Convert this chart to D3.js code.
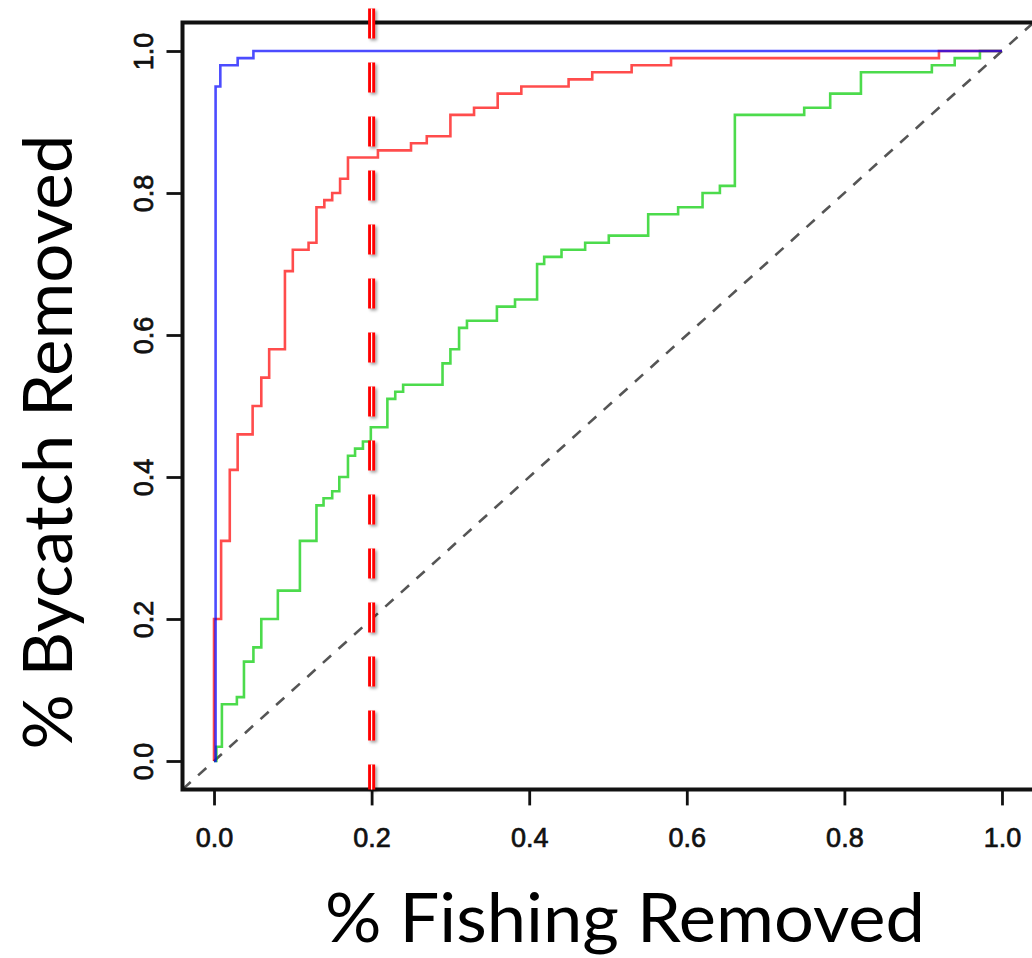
<!DOCTYPE html>
<html>
<head>
  <title>ROC: bycatch vs fishing removed</title>
  <script src="https://d3js.org/d3.v7.min.js"></script>
  <style>
    body { margin: 0; background: #fff; }
  </style>
</head>
<body>
<div id="svgcontainer"></div>
<script>
  // ---- data (x = % fishing removed, y = % bycatch removed)
  var blueX = [0, 0.002, 0.008, 0.03, 0.05, 1.0];
  var blueY = [0, 0.95, 0.98, 0.99, 1.0, 1.0];

  var redX = [0, 0, 0.009, 0.02, 0.03, 0.049, 0.06, 0.07, 0.09, 0.10, 0.12, 0.13, 0.14, 0.15,
              0.16, 0.17, 0.208, 0.25, 0.27, 0.30, 0.33, 0.36, 0.39, 0.45, 0.48, 0.53, 0.58, 0.92, 1.0];
  var redY = [0, 0.20, 0.31, 0.41, 0.46, 0.50, 0.54, 0.58, 0.69, 0.72, 0.73, 0.78, 0.79, 0.80,
              0.82, 0.85, 0.86, 0.87, 0.88, 0.91, 0.92, 0.94, 0.95, 0.96, 0.97, 0.98, 0.99, 1.0, 1.0];

  var greenX = [0, 0.003, 0.01, 0.029, 0.038, 0.05, 0.06, 0.081, 0.109, 0.13, 0.139, 0.15, 0.159,
                0.17, 0.179, 0.189, 0.199, 0.22, 0.23, 0.24, 0.29, 0.30, 0.311, 0.321, 0.359, 0.382,
                0.41, 0.419, 0.441, 0.471, 0.501, 0.551, 0.589, 0.62, 0.642, 0.661, 0.749, 0.782,
                0.821, 0.911, 0.94, 0.972, 1.0];
  var greenY = [0, 0.02, 0.08, 0.09, 0.14, 0.16, 0.20, 0.24, 0.31, 0.36, 0.37, 0.38, 0.40,
                0.43, 0.44, 0.45, 0.47, 0.51, 0.52, 0.53, 0.56, 0.58, 0.61, 0.62, 0.64, 0.65,
                0.70, 0.71, 0.72, 0.73, 0.74, 0.77, 0.78, 0.80, 0.81, 0.91, 0.92, 0.94,
                0.97, 0.98, 0.99, 1.0, 1.0];

  var tickValues = [0, 0.2, 0.4, 0.6, 0.8, 1.0];
  var cutoff = 0.2;
  var xTitle = "% Fishing Removed";
  var yTitle = "% Bycatch Removed";

  // ---- layout
  var width = 1032, height = 958;
  var usr = [-0.04, 1.04];          // R style 4% padding

  var x = d3.scaleLinear().domain(usr).range([182.5, 1033.5]);
  var y = d3.scaleLinear().domain(usr).range([789.4, 22.6]);

  var svg = d3.select("#svgcontainer").append("svg")
      .attr("width", width)
      .attr("height", height);

  var defs = svg.append("defs");
  var shadow = defs.append("filter").attr("id", "shadow")
      .attr("filterUnits", "userSpaceOnUse")
      .attr("x", 0).attr("y", 0).attr("width", width).attr("height", height);
  shadow.append("feDropShadow")
      .attr("dx", 2).attr("dy", 2).attr("stdDeviation", 1.5)
      .attr("flood-color", "#000").attr("flood-opacity", 0.35);

  drawDiagonal();
  drawCurve(greenX, greenY, "#00cc00");
  drawCurve(redX, redY, "#ff0000");
  drawCurve(blueX, blueY, "#0000ff");
  drawAxis();
  drawCutoff();
  drawTitles();

  function drawCurve(xs, ys, color) {
    var pts = xs.map(function(d, i) { return [d, ys[i]]; });
    var line = d3.line()
        .x(function(d) { return x(d[0]); })
        .y(function(d) { return y(d[1]); })
        .curve(d3.curveStepAfter);
    svg.append("path")
        .attr("d", line(pts))
        .attr("fill", "none")
        .attr("stroke", color)
        .attr("stroke-opacity", 0.7)
        .attr("stroke-width", 2.6);
  }

  function drawDiagonal() {
    svg.append("line")
        .attr("x1", x(usr[0])).attr("y1", y(usr[0]))
        .attr("x2", x(usr[1])).attr("y2", y(usr[1]))
        .attr("stroke", "#555")
        .attr("stroke-width", 2.6)
        .attr("stroke-dasharray", "11,10");
  }

  function styleTicks(sel) {
    sel.attr("fill", "#111")
        .attr("stroke", "#111")
        .attr("stroke-width", 0.7)
        .style("font-family", "'Liberation Sans', Arial, sans-serif")
        .style("font-size", "27px");
  }

  function drawAxis() {
    // box (right side runs off the picture)
    svg.append("path")
        .attr("d", "M" + x(usr[1]) + "," + y(usr[1]) + "H" + x(usr[0]) + "V" + y(usr[0]) + "H" + x(usr[1]))
        .attr("fill", "none")
        .attr("stroke", "#111")
        .attr("stroke-width", 4);

    var xAxis = d3.axisBottom(x).tickValues(tickValues).tickFormat(d3.format(".1f")).tickSize(16);
    var gx = svg.append("g")
        .attr("transform", "translate(0," + y(usr[0]) + ")")
        .call(xAxis);
    gx.select(".domain").remove();
    gx.selectAll(".tick line").attr("stroke", "#111").attr("stroke-width", 2.8);
    gx.selectAll(".tick text").attr("y", 58).attr("dy", 0).call(styleTicks);

    var yAxis = d3.axisLeft(y).tickValues(tickValues).tickFormat(d3.format(".1f")).tickSize(16);
    var gy = svg.append("g")
        .attr("transform", "translate(" + x(usr[0]) + ",0)")
        .call(yAxis);
    gy.select(".domain").remove();
    gy.selectAll(".tick line").attr("stroke", "#111").attr("stroke-width", 2.8);
    gy.selectAll(".tick text")
        .attr("transform", "rotate(-90)")
        .attr("x", 0).attr("y", -30).attr("dy", 0)
        .attr("text-anchor", "middle")
        .call(styleTicks);
  }

  function drawCutoff() {
    var g = svg.append("g").attr("filter", "url(#shadow)");
    g.append("line")
        .attr("x1", x(cutoff)).attr("x2", x(cutoff))
        .attr("y1", y(1.06)).attr("y2", y(usr[0]))
        .attr("stroke", "#ff0000")
        .attr("stroke-width", 7)
        .attr("stroke-dasharray", "30,24");
    g.append("line")
        .attr("x1", x(cutoff)).attr("x2", x(cutoff))
        .attr("y1", y(1.06)).attr("y2", y(usr[0]))
        .attr("stroke", "#fff")
        .attr("stroke-width", 1.2)
        .attr("stroke-dasharray", "30,24");
  }

  function drawTitles() {
    svg.append("text")
        .attr("x", 625).attr("y", 942)
        .attr("text-anchor", "middle")
        .attr("textLength", 600)
        .attr("lengthAdjust", "spacingAndGlyphs")
        .style("font-family", "Lato, 'Open Sans', sans-serif")
        .style("font-size", "68px")
        .text(xTitle);

    svg.append("text")
        .attr("transform", "translate(72,442) rotate(-90)")
        .attr("text-anchor", "middle")
        .attr("textLength", 615)
        .attr("lengthAdjust", "spacingAndGlyphs")
        .style("font-family", "Lato, 'Open Sans', sans-serif")
        .style("font-size", "68px")
        .text(yTitle);
  }
</script>
</body>
</html>
